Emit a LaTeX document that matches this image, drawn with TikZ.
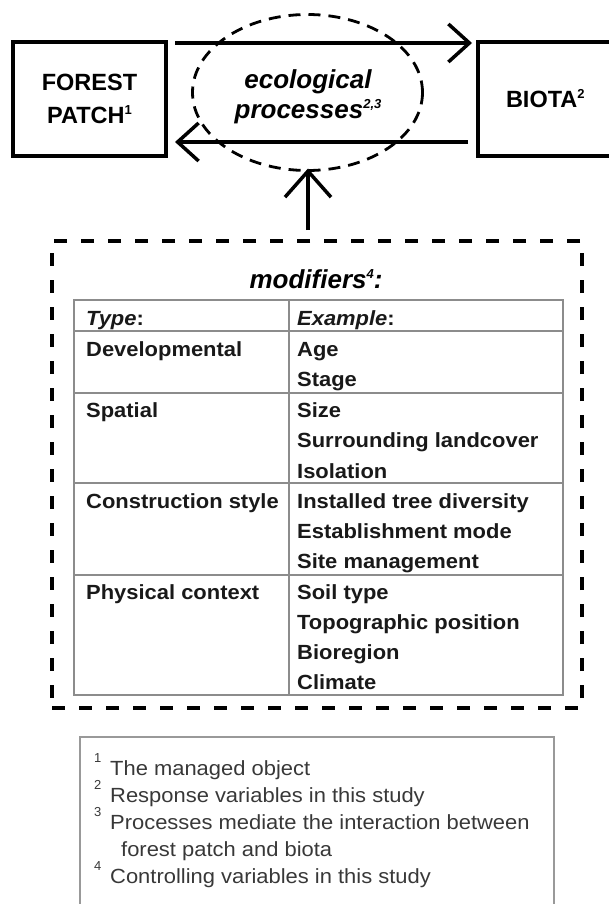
\documentclass[tikz,border=0pt]{standalone}
\usepackage{fontspec}
\setmainfont{Liberation Sans}
\usetikzlibrary{arrows.meta,shapes.geometric}
\newcommand{\headfont}{\fontsize{23.5}{33}\selectfont\bfseries}
\newcommand{\procfont}{\fontsize{26}{30}\selectfont\bfseries\itshape}
\newcommand{\tabfont}{\fontsize{20.5}{30}\selectfont\bfseries\addfontfeature{FakeStretch=1.07}}
\newcommand{\fnfont}{\fontsize{20.5}{27}\selectfont\addfontfeature{FakeStretch=1.07}}
\newcommand{\mysup}[2]{\raisebox{#2}{\fontsize{13}{13}\selectfont #1}}
\begin{document}
\begin{tikzpicture}[x=1pt,y=-1pt,
  box/.style={draw, line width=3.5pt, rectangle, inner sep=0pt, outer sep=0pt},
  arr/.style={line width=3.5pt, -{Straight Barb[length=21pt,width=38pt]}},
  uparr/.style={line width=3.5pt, -{Straight Barb[length=26pt,width=46pt]}},
  procell/.style={draw, ellipse, dashed, line width=2.8pt, dash pattern=on 12pt off 8pt, inner sep=0pt, outer sep=0pt},
  modbox/.style={draw, rectangle, line width=3.8pt, dash pattern=on 13pt off 14pt, inner sep=0pt, outer sep=0pt},
  tabline/.style={draw=black!45, line width=1.4pt},
  cell/.style={anchor=base west, inner sep=0pt, font=\tabfont, text=black!90},
  fntext/.style={anchor=base west, inner sep=0pt, font=\fnfont, text=black!78},
  fnsup/.style={anchor=base west, inner sep=0pt, font=\fontsize{13}{13}\selectfont, text=black!78}
]
\useasboundingbox (0,0) rectangle (609,904);
\clip (0,0) rectangle (609,904);

% top boxes
\node[box, minimum width=153pt, minimum height=114pt, align=center, font=\headfont] (forest) at (89.5,99) {FOREST\\PATCH\mysup{1}{9pt}};
\node[box, minimum width=147pt, minimum height=114pt, font=\headfont, text width=147pt, align=left] (biota) at (551.5,99) {\hspace{28pt}BIOTA\mysup{2}{9pt}};

% ecological processes
\node[procell, minimum width=230pt, minimum height=156pt] (proc) at (307.5,92.5) {};
\node[align=center, font=\procfont, inner sep=0pt] (proctext) at (308,97) {ecological\\processes\mysup{2,3}{10pt}};

% horizontal arrows
\draw[arr] ([xshift=9pt,yshift=-1pt]forest.north east) -- ([xshift=-6pt,yshift=-1pt]biota.north west);
\draw[arr] ([xshift=-10pt,yshift=14pt]biota.south west) -- ([xshift=9pt,yshift=14pt]forest.south east);

% modifiers box
\node[modbox, minimum width=530pt, minimum height=467pt] (mod) at (317,474.5) {};
\coordinate (upstart) at (308,230);
\draw[uparr] (upstart) -- ([xshift=0.5pt,yshift=2pt]proc.south);

\node[font=\procfont, inner sep=0pt, anchor=base] (modtitle) at (316,288) {modifiers\mysup{4}{10pt}:};

% table
\node[tabline, rectangle, minimum width=489pt, minimum height=395pt, inner sep=0pt, outer sep=0pt] (tbl) at (318.5,497.5) {};
\draw[tabline] (289,300) -- (289,695);
\draw[tabline] (74,331) -- (563,331);
\draw[tabline] (74,393) -- (563,393);
\draw[tabline] (74,483) -- (563,483);
\draw[tabline] (74,575) -- (563,575);

\node[cell] (ltype) at (86,325) {\textit{Type}:};
\node[cell] (ldev) at (86,356) {Developmental};
\node[cell] (lspa) at (86,417) {Spatial};
\node[cell] (lcon) at (86,508) {Construction style};
\node[cell] (lphy) at (86,599) {Physical context};

\node[cell] (rex) at (297,325) {\textit{Example}:};
\node[cell] (r1) at (297,356) {Age};
\node[cell] (r2) at (297,386) {Stage};
\node[cell] (r3) at (297,417) {Size};
\node[cell] (r4) at (297,447) {Surrounding landcover};
\node[cell] (r5) at (297,478) {Isolation};
\node[cell] (r6) at (297,508) {Installed tree diversity};
\node[cell] (r7) at (297,538) {Establishment mode};
\node[cell] (r8) at (297,568) {Site management};
\node[cell] (r9) at (297,599) {Soil type};
\node[cell] (r10) at (297,629) {Topographic position};
\node[cell] (r11) at (297,659) {Bioregion};
\node[cell] (r12) at (297,689) {Climate};

% footnotes
\node[draw=black!40, line width=1.8pt, rectangle, minimum width=474pt, minimum height=180pt, inner sep=0pt] (fn) at (317,827) {};
\node[fnsup] (s1) at (94,762) {1};
\node[fntext] (f1) at (110,775) {The managed object};
\node[fnsup] (s2) at (94,789) {2};
\node[fntext] (f2) at (110,802) {Response variables in this study};
\node[fnsup] (s3) at (94,816) {3};
\node[fntext] (f3) at (110,829) {Processes mediate the interaction between};
\node[fntext] (f3b) at (121,856) {forest patch and biota};
\node[fnsup] (s4) at (94,870) {4};
\node[fntext] (f4) at (110,883) {Controlling variables in this study};
\end{tikzpicture}
\end{document}
